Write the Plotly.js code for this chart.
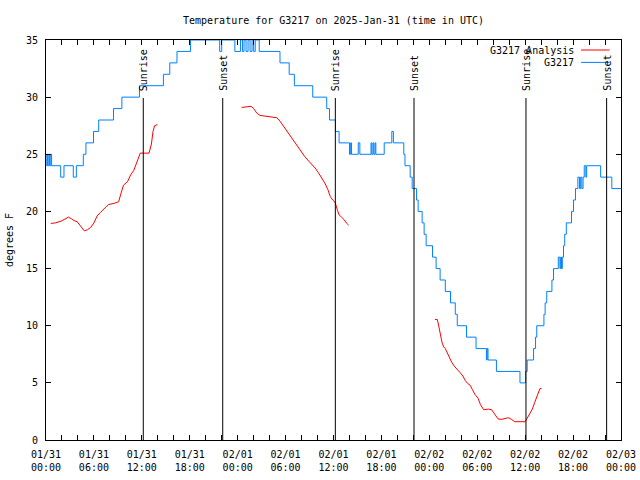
<!DOCTYPE html>
<html>
<head>
<meta charset="utf-8">
<script src="https://cdn.plot.ly/plotly-3.0.1.min.js"></script>
<style>html,body{margin:0;padding:0;background:#fff;}#chart{width:640px;height:480px;}</style>
</head>
<body>
<div id="chart"></div>
<script>
// Hours since 2025-01-31 00:00 UTC
// Observed G3217 (1-degree resolution), change points
const obsHours = [0.0,0.1,0.2,0.35,0.45,0.6,0.7,1.84,2.25,3.42,3.8,4.67,5.0,5.95,6.6,8.45,9.5,11.7,14.7,15.5,16.4,18.1,
  21.75,22.0,23.65,24.35,24.6,24.8,25.05,25.3,25.55,25.8,26.0,26.2,26.7,29.3,30.45,31.1,33.4,35.15,35.5,36.25,36.7,
  38.0,38.15,38.25,39.1,39.3,40.7,40.8,40.95,41.05,41.2,41.3,42.35,43.3,43.5,44.8,44.95,45.6,45.85,46.4,46.6,47.1,47.35,47.6,
  48.4,48.85,49.35,50.0,50.65,51.25,51.5,52.65,53.85,55.15,55.25,55.35,56.4,59.35,60.05,60.25,61.05,61.3,61.45,62.35,62.5,62.7,
  63.35,63.55,64.15,64.35,64.45,64.55,64.65,64.8,64.95,65.15,65.8,66.05,66.3,66.6,66.8,66.95,67.1,67.25,67.4,67.6,67.7,69.45,70.85,72.0];
const obsTemp = [24,25,24,25,24,25,24,23,24,23,24,25,26,27,28,29,30,31,32,33,34,35,
  34,35,34,35,34,35,34,35,34,35,34,35,34,33,32,31,30,29,28,27,26,
  25,26,25,26,25,26,25,26,25,26,25,26,27,26,25,24,23,22,21,20,19,18,17,
  16,15,14,13,12,11,10,9,8,7,8,7,6,5,6,7,8,9,10,11,12,13,
  14,15,16,15,16,15,16,17,18,19,20,21,22,23,22,23,22,23,24,23,24,23,22,22];

// G3217 Analysis (three separate runs, null = gap)
const anaHours = [0.6,1.2,1.9,2.4,2.8,3.2,3.5,3.9,4.2,4.5,4.8,5.2,5.6,6.0,6.4,6.8,7.3,7.8,8.5,9.1,9.4,9.7,10.2,10.6,11.0,11.4,11.8,12.9,13.2,13.4,13.6,13.95,
  null,
  24.5,25.3,25.7,26.0,26.4,26.8,27.4,28.3,28.9,29.3,29.7,30.1,30.6,31.1,31.6,32.0,32.4,32.9,33.3,33.7,34.1,34.5,34.9,35.3,35.6,35.9,36.2,36.5,36.7,37.0,37.3,37.6,37.9,
  null,
  48.7,49.0,49.2,49.35,49.6,49.8,50.0,50.2,50.5,50.8,51.2,51.5,51.85,52.2,52.5,52.8,53.1,53.4,53.7,54.1,54.4,54.8,55.4,55.8,56.2,56.6,57.0,57.5,57.9,58.3,58.7,60.0,60.3,60.6,60.9,61.2,61.5,61.85,62.05];
const anaTemp = [18.95,19.0,19.15,19.35,19.5,19.35,19.2,19.1,18.85,18.5,18.3,18.4,18.6,19.0,19.6,19.9,20.3,20.6,20.7,20.85,21.6,22.3,22.6,23.2,23.6,24.3,25.1,25.1,25.9,27.0,27.5,27.6,
  null,
  29.1,29.2,29.2,29.0,28.6,28.4,28.35,28.3,28.2,27.9,27.5,27.1,26.5,26.0,25.5,25.1,24.8,24.4,24.1,23.8,23.4,23.0,22.5,21.9,21.3,21.0,20.8,20.1,19.7,19.5,19.3,19.0,18.8,
  null,
  10.55,10.55,9.9,9.3,8.5,8.15,8.0,7.7,7.2,6.8,6.4,6.2,5.9,5.6,5.2,4.95,4.8,4.4,4.0,3.65,3.1,2.65,2.7,2.65,2.2,1.85,1.8,1.9,1.95,1.8,1.6,1.6,2.0,2.4,2.7,3.3,3.8,4.5,4.5];

// Sunrise / sunset events (hours)
const sunHours = [12.18, 22.13, 36.23, 46.08, 60.1, 70.2];
const sunLabels = ["Sunrise", "Sunset", "Sunrise", "Sunset", "Sunrise", "Sunset"];

// Axis ticks
const xTickVals = [0,6,12,18,24,30,36,42,48,54,60,66,72];
const xTickText = ["01/31<br>00:00","01/31<br>06:00","01/31<br>12:00","01/31<br>18:00",
  "02/01<br>00:00","02/01<br>06:00","02/01<br>12:00","02/01<br>18:00",
  "02/02<br>00:00","02/02<br>06:00","02/02<br>12:00","02/02<br>18:00","02/03<br>00:00"];
const seriesNames = ["G3217 Analysis", "G3217"];

const FONT = "DejaVu Sans Mono, Liberation Mono, monospace";
const RED = "rgb(255,0,0)";
const BLUE = "rgb(0,128,255)";

const traces = [
  {x: anaHours, y: anaTemp, type: "scatter", mode: "lines", name: seriesNames[0],
   line: {color: RED, width: 1}, connectgaps: false, showlegend: false, hoverinfo: "skip"},
  {x: obsHours, y: obsTemp, type: "scatter", mode: "lines", name: seriesNames[1],
   line: {color: BLUE, width: 1, shape: "hv"}, showlegend: false, hoverinfo: "skip"}
];

const shapes = sunHours.map(h => ({
  type: "line", xref: "x", yref: "paper", x0: h, x1: h, y0: 0, y1: 0.855,
  line: {color: "black", width: 1}, layer: "above"
}));
// legend samples
shapes.push({type: "line", xref: "paper", yref: "paper", x0: 0.9304, x1: 0.98, y0: 0.975, y1: 0.975, line: {color: RED, width: 1}});
shapes.push({type: "line", xref: "paper", yref: "paper", x0: 0.9304, x1: 0.98, y0: 0.944, y1: 0.944, line: {color: BLUE, width: 1}});

const annotations = sunHours.map((h, i) => ({
  x: h, xref: "x", y: 0.87, yref: "paper", text: sunLabels[i], textangle: -90,
  showarrow: false, xanchor: "center", yanchor: "bottom", borderpad: 0,
  font: {family: FONT, size: 10, color: "black"}
}));
annotations.push({x: 0.92, xref: "paper", y: 0.975, yref: "paper", text: seriesNames[0], showarrow: false,
  xanchor: "right", yanchor: "middle", borderpad: 0, font: {family: FONT, size: 10, color: "black"}});
annotations.push({x: 0.92, xref: "paper", y: 0.944, yref: "paper", text: seriesNames[1], showarrow: false,
  xanchor: "right", yanchor: "middle", borderpad: 0, font: {family: FONT, size: 10, color: "black"}});

const layout = {
  width: 640, height: 480,
  margin: {l: 46, r: 19, t: 40, b: 40, pad: 0},
  paper_bgcolor: "white", plot_bgcolor: "white",
  font: {family: FONT, size: 10, color: "black"},
  showlegend: false,
  title: {text: "Temperature for G3217 on 2025-Jan-31 (time in UTC)", x: 0.5, xref: "paper", xanchor: "center",
          y: 0.958, yref: "container", yanchor: "middle", font: {family: FONT, size: 10, color: "black"}},
  xaxis: {range: [0, 72], tickmode: "array", tickvals: xTickVals, ticktext: xTickText,
          ticks: "inside", ticklen: 5, tickcolor: "black", tickwidth: 1, ticklabelstandoff: 5,
          showline: true, linecolor: "black", linewidth: 1, mirror: "allticks",
          showgrid: false, zeroline: false, tickangle: 0,
          minor: {tickmode: "linear", tick0: 0, dtick: 2, ticks: "inside", ticklen: 5, tickcolor: "black", showgrid: false},
          tickfont: {family: FONT, size: 10, color: "black"}},
  yaxis: {range: [0, 35], tickmode: "linear", tick0: 0, dtick: 5,
          ticks: "inside", ticklen: 5, tickcolor: "black", tickwidth: 1, ticklabelstandoff: 5,
          showline: true, linecolor: "black", linewidth: 1, mirror: "allticks",
          showgrid: false, zeroline: false,
          title: {text: "degrees F", standoff: 10, font: {family: FONT, size: 10, color: "black"}},
          tickfont: {family: FONT, size: 10, color: "black"}},
  shapes: shapes,
  annotations: annotations
};

Plotly.newPlot("chart", traces, layout, {staticPlot: true, displayModeBar: false});
</script>
</body>
</html>
